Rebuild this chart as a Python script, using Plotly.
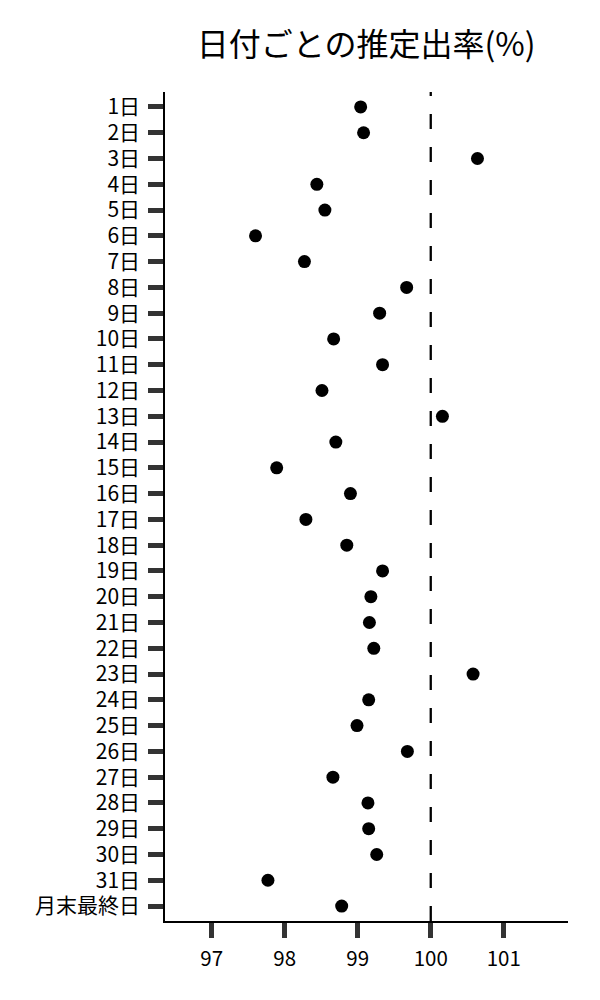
import plotly.graph_objects as go

# ── data ─────────────────────────────────────────────────────────────────────
days = [f"{d}日" for d in range(1, 32)] + ["月末最終日"]
rates = [
    99.04, 99.08, 100.64, 98.44, 98.55, 97.60, 98.27, 99.67, 99.30, 98.67,
    99.34, 98.51, 100.16, 98.70, 97.89, 98.90, 98.29, 98.85, 99.34, 99.18,
    99.16, 99.22, 100.58, 99.15, 98.99, 99.68, 98.66, 99.14, 99.15, 99.26,
    97.77, 98.78,
]
ref_value = 100
x_ticks = [97, 98, 99, 100, 101]

FONT = "Noto Sans CJK JP"

fig = go.Figure()
fig.add_trace(go.Scatter(
    x=rates, y=days, mode="markers",
    marker=dict(color="black", size=13),
    showlegend=False, hoverinfo="x+y",
))

fig.add_vline(x=ref_value, line=dict(color="black", width=2.3, dash="15px,18px"))

# page body adds ~8px offset, so margins are shifted to compensate
fig.update_layout(
    width=600, height=1000,
    margin=dict(l=157, r=40, t=84, b=87),
    plot_bgcolor="white", paper_bgcolor="white",
    font=dict(family=FONT, color="black", size=20),
    title=dict(text="日付ごとの推定出率(%)", x=0.597, xanchor="center",
               y=0.963, yanchor="middle", font=dict(size=32, family=FONT)),
)
fig.update_xaxes(
    range=[96.36, 101.88], tickvals=x_ticks,
    showline=True, linecolor="black", linewidth=1.5,
    ticks="outside", ticklen=15, tickwidth=5, tickcolor="#333",
    showgrid=False, zeroline=False,
    tickfont=dict(size=20.5), ticklabelstandoff=4,
)
fig.update_yaxes(
    type="category", categoryorder="array", categoryarray=days,
    range=[31.58, -0.58],
    showline=True, linecolor="black", linewidth=1.5,
    ticks="outside", ticklen=15, tickwidth=5, tickcolor="#333",
    showgrid=False, zeroline=False,
    tickfont=dict(size=21), ticklabelstandoff=4,
)

fig.write_html("out.html")
